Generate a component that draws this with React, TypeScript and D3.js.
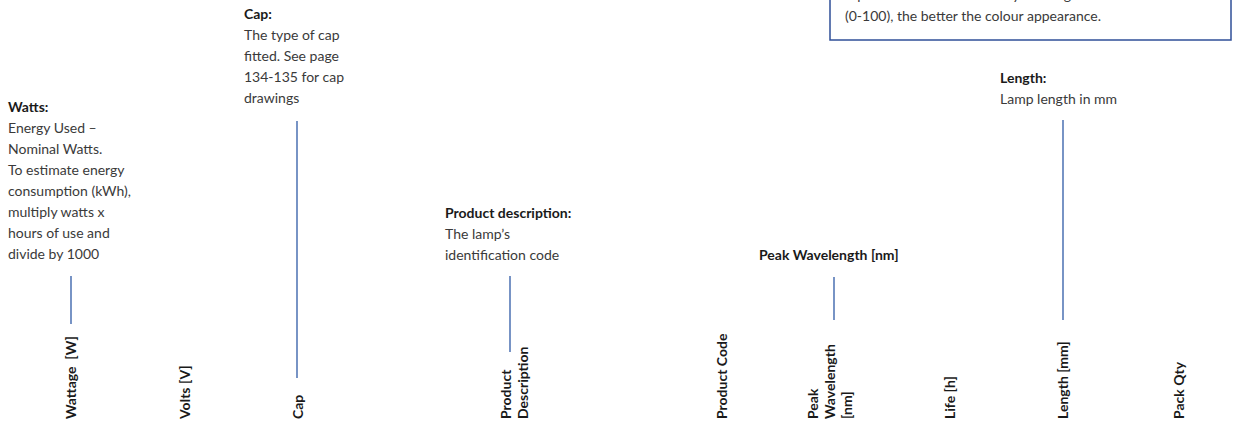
/**
 * Column-key diagram for a lamp catalogue table (rotated headers + callouts).
 */

import { useEffect, useRef } from "react";
import * as d3 from "d3";

const WIDTH = 1244;
const HEIGHT = 426;

const FONT = "Lato, 'Open Sans', sans-serif";
const TITLE_FILL = "#1a1a1a";
const BODY_FILL = "#3a3a3a";
const LEADER_STROKE = "#2f5aa6";
const BOX_STROKE = "#2f4f98";

// table header columns, in reading order
const COLUMN_KEYS = [
  "wattage",
  "volts",
  "cap",
  "description",
  "code",
  "peak",
  "life",
  "length",
  "pack",
];
const COLUMN_HEADERS = [
  ["Wattage\u00a0 [W]"],
  ["Volts [V]"],
  ["Cap"],
  ["Product", "Description"],
  ["Product Code"],
  ["Peak", "Wavelength", "[nm]"],
  ["Life [h]"],
  ["Length [mm]"],
  ["Pack Qty"],
];

// callouts that point at a column
const NOTE_COLUMNS = ["wattage", "cap", "description", "peak", "length"];
const NOTE_TITLES = [
  "Watts:",
  "Cap:",
  "Product description:",
  "Peak Wavelength [nm]",
  "Length:",
];
const NOTE_BODIES = [
  [
    "Energy Used \u2013",
    "Nominal Watts.",
    "To estimate energy",
    "consumption (kWh),",
    "multiply watts x",
    "hours of use and",
    "divide by 1000",
  ],
  ["The type of cap", "fitted. See page", "134-135 for cap", "drawings"],
  ["The lamp\u2019s", "identification code"],
  [],
  ["Lamp length in mm"],
];

// boxed note at the top right, mostly cut off by the page edge
const BOX_LINES = [
  "reproduces colours faithfully. The higher the number",
  "(0-100), the better the colour appearance.",
];

// layout: column centres, callout anchors
const COLUMN_CENTRES = [71, 185, 298, 514, 722, 830, 950, 1063, 1179];
const NOTE_X = [8, 244, 445, 759, 1000];
const NOTE_TITLE_Y = [112, 19, 218, 260, 83];
const LEADER_X = [71, 297, 510, 834, 1063];
const LEADER_Y = [
  [276, 324],
  [121, 378],
  [276, 352],
  [277, 320],
  [120, 320],
];

export default function App() {
  const ref = useRef<SVGSVGElement | null>(null);

  useEffect(() => {
    const el = ref.current;
    if (!el) return;

    const svg = d3.select(el);
    svg.selectAll("*").remove();
    svg.attr("viewBox", `0 0 ${WIDTH} ${HEIGHT}`)
      .attr("width", WIDTH)
      .attr("height", HEIGHT);

    const colX = d3.scaleOrdinal<string, number>()
      .domain(COLUMN_KEYS)
      .range(COLUMN_CENTRES);

    const fontSize = 14;
    const lineH = 21;
    const headLineH = 17;
    const headBottom = 419;

    // rotated column headers, read bottom to top
    const heads = svg.append("g").attr("class", "column-headers");
    COLUMN_KEYS.forEach((key, i) => {
      const lines = COLUMN_HEADERS[i];
      const blockW = (lines.length - 1) * headLineH;
      const tx = colX(key) - blockW / 2 + 5;
      const t = heads.append("text")
        .attr("transform", `translate(${tx},${headBottom}) rotate(-90)`)
        .attr("font-family", FONT)
        .attr("font-size", fontSize)
        .attr("font-weight", 700)
        .attr("fill", TITLE_FILL)
        .style("white-space", "pre");
      lines.forEach((ln, j) => {
        t.append("tspan")
          .attr("x", 0)
          .attr("y", j * headLineH)
          .text(ln);
      });
    });

    // callouts
    const notes = svg.append("g").attr("class", "callouts");
    NOTE_COLUMNS.forEach((key, i) => {
      const g = notes.append("g").attr("class", `note-${key}`);
      g.append("text")
        .attr("x", NOTE_X[i])
        .attr("y", NOTE_TITLE_Y[i])
        .attr("font-family", FONT)
        .attr("font-size", fontSize)
        .attr("font-weight", 700)
        .attr("fill", TITLE_FILL)
        .text(NOTE_TITLES[i]);

      g.selectAll("text.body")
        .data(NOTE_BODIES[i])
        .join("text")
        .attr("class", "body")
        .attr("x", NOTE_X[i])
        .attr("y", (_, j) => NOTE_TITLE_Y[i] + 20.5 + j * lineH)
        .attr("font-family", FONT)
        .attr("font-size", fontSize)
        .attr("fill", BODY_FILL)
        .text((d) => d);

      g.append("line")
        .attr("x1", LEADER_X[i])
        .attr("x2", LEADER_X[i])
        .attr("y1", LEADER_Y[i][0])
        .attr("y2", LEADER_Y[i][1])
        .attr("stroke", LEADER_STROKE)
        .attr("stroke-width", 1.3);
    });

    // boxed note (top edge is off the page)
    const box = svg.append("g").attr("class", "cri-box");
    box.append("rect")
      .attr("x", 830)
      .attr("y", -60)
      .attr("width", 401)
      .attr("height", 100)
      .attr("fill", "none")
      .attr("stroke", BOX_STROKE)
      .attr("stroke-width", 1.5);
    box.selectAll("text")
      .data(BOX_LINES)
      .join("text")
      .attr("x", 845)
      .attr("y", (_, j) => -0.5 + j * lineH)
      .attr("font-family", FONT)
      .attr("font-size", fontSize)
      .attr("fill", BODY_FILL)
      .text((d) => d);
  }, []);

  return (
    <svg
      ref={ref}
      style={{ position: "absolute", left: 0, top: 0, display: "block", background: "#fff" }}
    />
  );
}
